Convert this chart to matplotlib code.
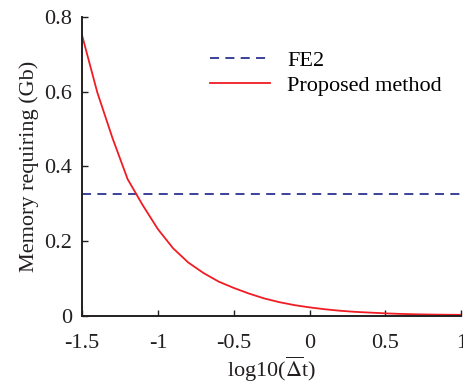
import matplotlib
matplotlib.use('Agg')
import matplotlib.pyplot as plt

# 数据
log_dt = [-1.5, -1.4, -1.3, -1.2, -1.1, -1.0, -0.9, -0.8, -0.7, -0.6, -0.5, -0.4, -0.3,
          -0.2, -0.1, 0.0, 0.1, 0.2, 0.3, 0.4, 0.5, 0.6, 0.7, 0.8, 0.9, 1.0]
proposed_mem = [0.750, 0.598, 0.476, 0.366, 0.296, 0.232, 0.181, 0.143, 0.115, 0.092,
                0.075, 0.060, 0.047, 0.037, 0.029, 0.023, 0.018, 0.014, 0.011, 0.009,
                0.007, 0.0055, 0.0045, 0.0038, 0.0033, 0.003]
fe2_mem = 0.325

x_ticks = [-1.5, -1, -0.5, 0, 0.5, 1]
x_ticklabels = ['-1.5', '-1', '-0.5', '0', '0.5', '1']
y_ticks = [0, 0.2, 0.4, 0.6, 0.8]
y_ticklabels = ['0', '0.2', '0.4', '0.6', '0.8']

plt.rcParams['font.family'] = ['Liberation Serif', 'DejaVu Serif']
plt.rcParams['mathtext.fontset'] = 'stix'

fig = plt.figure(figsize=(4.64, 3.83), dpi=100)
ax = fig.add_axes([0.177, 0.175, 0.817, 0.781])

ax.plot([log_dt[0], log_dt[-1]], [fe2_mem, fe2_mem], '--', color='#2b3490',
        linewidth=1.3, dashes=(5, 3.5), label='FE2')
ax.plot(log_dt, proposed_mem, '-', color='#f01c24', linewidth=1.3, label='Proposed method')

ax.set_xlim(-1.5, 1)
ax.set_ylim(0, 0.8)
ax.set_xticks(x_ticks)
ax.set_xticklabels(x_ticklabels)
ax.set_yticks(y_ticks)
ax.set_yticklabels(y_ticklabels)

for side in ['top', 'right']:
    ax.spines[side].set_visible(False)
for side in ['left', 'bottom']:
    ax.spines[side].set_linewidth(1.4)
    ax.spines[side].set_color('#231f20')

ax.tick_params(direction='in', length=4, width=1, colors='#231f20', labelsize=16)
ax.tick_params(axis='x', pad=13)
ax.tick_params(axis='y', pad=7)

ax.set_xlabel(r'log10($\overline{\Delta}$t)', fontsize=16, color='#231f20', labelpad=1)
ax.set_ylabel('Memory requiring (Gb)', fontsize=16, color='#231f20', labelpad=4)

ax.legend(loc='upper left', bbox_to_anchor=(0.338, 0.887), frameon=False, fontsize=16,
          handlelength=2.7, handletextpad=0.75, labelspacing=0.2, borderpad=0,
          borderaxespad=0)

plt.savefig('out.png', dpi=100)
plt.close(fig)
